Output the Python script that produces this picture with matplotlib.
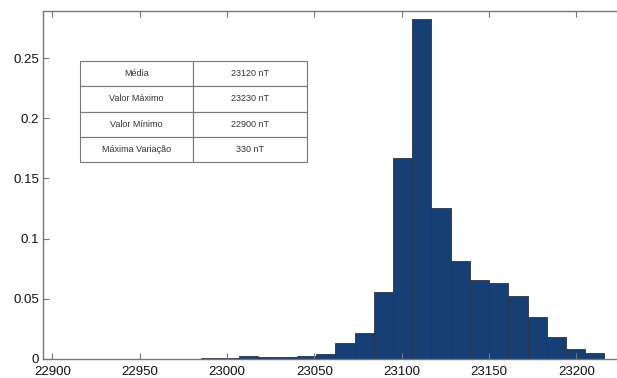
import numpy as np
import matplotlib.pyplot as plt

plt.rcParams['font.family'] = ['Liberation Sans', 'DejaVu Sans']

# histogram of field intensity (nT), normalised to probability
bin_start = 22897
bin_width = 11
probs = [0.0, 0.0, 0.0, 0.0004, 0.0, 0.0004, 0.0003, 0.0, 0.0005, 0.0012,
         0.0025, 0.0018, 0.0018, 0.0022, 0.0042, 0.0130, 0.0218, 0.0559,
         0.1667, 0.2827, 0.1252, 0.0811, 0.0656, 0.0631, 0.0523, 0.0349,
         0.0183, 0.0083, 0.0050]

xticks = [22900, 22950, 23000, 23050, 23100, 23150, 23200]
yticks = [0, 0.05, 0.1, 0.15, 0.2, 0.25]
ytick_labels = ['0', '0.05', '0.1', '0.15', '0.2', '0.25']

stats_names = ['Média', 'Valor Máximo', 'Valor Mínimo', 'Máxima Variação']
stats_values = ['23120 nT', '23230 nT', '22900 nT', '330 nT']

edges = bin_start + bin_width * np.arange(len(probs) + 1)

fig = plt.figure(figsize=(6.17, 3.78), dpi=100)
ax = fig.add_axes([0.0702, 0.0503, 0.9298, 0.9214])

ax.bar(edges[:-1], probs, width=bin_width, align='edge',
       color='#163f75', edgecolor='#2b3446', linewidth=0.6)

ax.set_xlim(22894.85, 23223.2)
ax.set_ylim(0, 0.2893)
ax.set_xticks(xticks)
ax.set_xticklabels([str(t) for t in xticks])
ax.set_yticks(yticks)
ax.set_yticklabels(ytick_labels)

ax.tick_params(direction='in', length=4, width=0.8, color='#777777',
               labelsize=9.5, labelcolor='#111111', top=True)
ax.tick_params(axis='x', pad=5)
ax.tick_params(axis='y', pad=3)
for side in ['left', 'bottom', 'top']:
    ax.spines[side].set_color('#777777')
    ax.spines[side].set_linewidth(1.0)
ax.spines['right'].set_visible(False)

# summary table in the empty upper-left area
cells = [[n, v] for n, v in zip(stats_names, stats_values)]
tbl = ax.table(cellText=cells, cellLoc='center',
               bbox=[0.064, 0.5647, 0.395, 0.2909])
tbl.auto_set_font_size(False)
tbl.set_fontsize(6.5)
for cell in tbl.get_celld().values():
    cell.set_edgecolor('#777777')
    cell.set_linewidth(0.8)
    cell.get_text().set_color('#333333')

fig.savefig('out.png', dpi=100)
